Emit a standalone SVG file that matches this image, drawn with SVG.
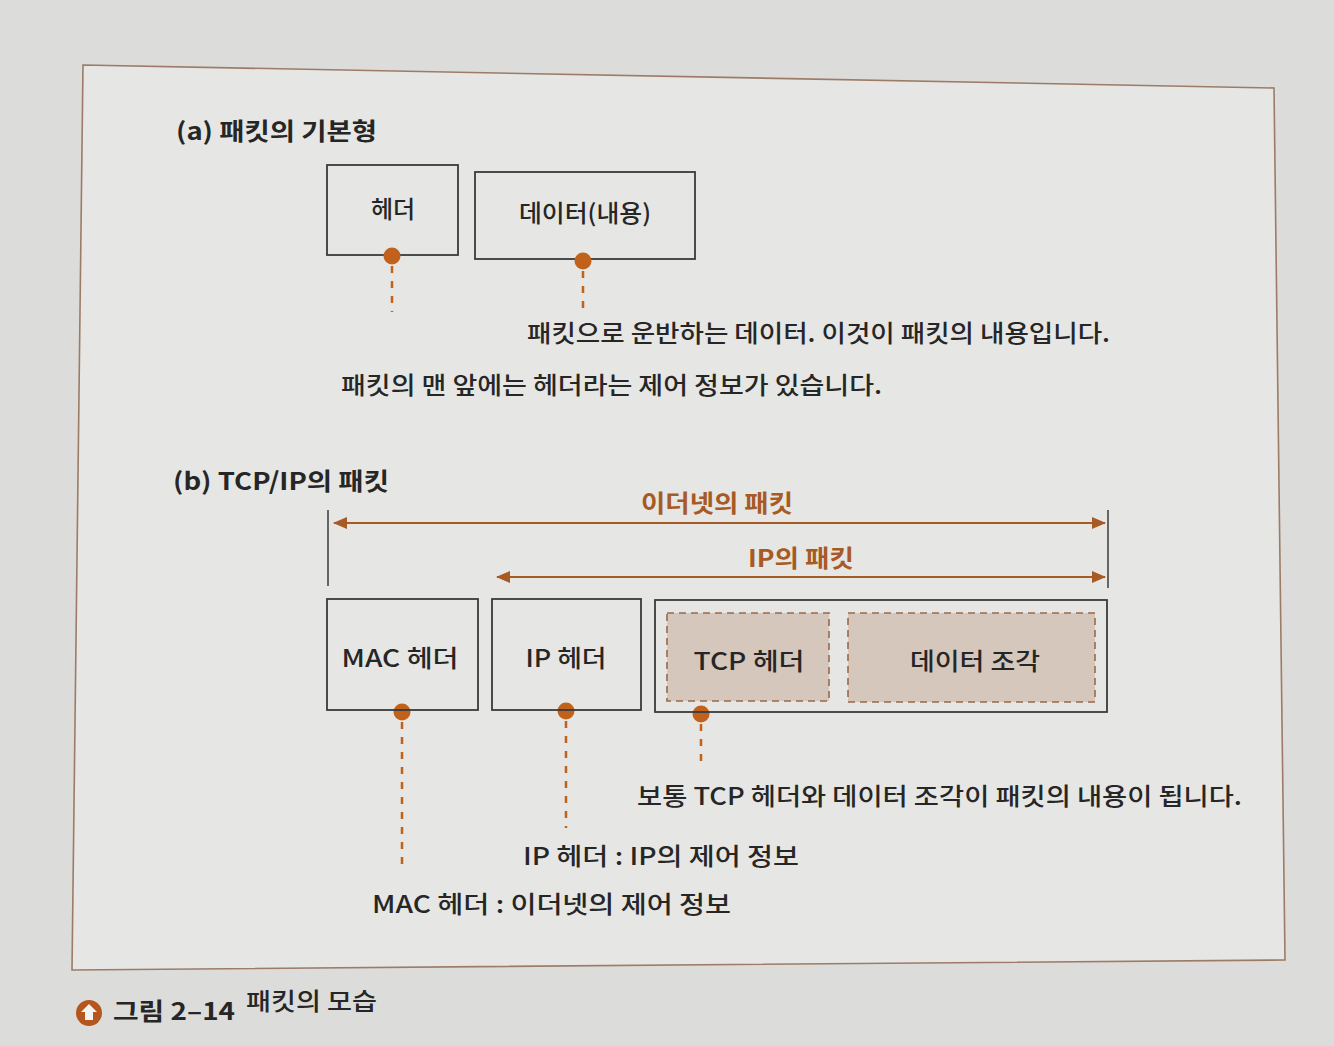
<svg xmlns="http://www.w3.org/2000/svg" width="1334" height="1046" viewBox="0 0 1334 1046">
<style>
.t{font-family:"Noto Sans CJK KR","Noto Sans",sans-serif;fill:#262626;font-size:24px;font-weight:500}
.b{font-weight:bold}
.o{fill:#a85a25;font-weight:bold}
.box{fill:none;stroke:#3a3a3a;stroke-width:1.8}
.dbox{fill:#d6c7bd;stroke:#9a6a4a;stroke-width:1.6;stroke-dasharray:7 5}
.dot{fill:#c0621c}
.lead{stroke:#c0621c;stroke-width:2.5;stroke-dasharray:7 8}
.arr{stroke:#a85a25;stroke-width:2.2;fill:none}
.tick{stroke:#3a3a3a;stroke-width:1.5}
</style>
<defs>
<marker id="ah" viewBox="0 0 14 12" refX="13" refY="6" markerWidth="14" markerHeight="12" markerUnits="userSpaceOnUse" orient="auto-start-reverse">
<path d="M0,0 L14,6 L0,12 Z" fill="#a85a25"/>
</marker>
</defs>
<rect width="1334" height="1046" fill="#dcdcda"/>
<polygon points="83,65 1274,88 1285,960 72,970" fill="#e6e6e4" stroke="#9c7c66" stroke-width="1.6"/>

<text class="t b" x="176" y="140" textLength="201" lengthAdjust="spacingAndGlyphs">(a) 패킷의 기본형</text>

<g id="header-a">
<rect class="box" x="327" y="165" width="131" height="90"/>
<text class="t" x="393" y="218" text-anchor="middle">헤더</text>
</g>
<g id="data-a">
<rect class="box" x="475" y="172" width="220" height="87"/>
<text class="t" x="585" y="222" text-anchor="middle" textLength="132" lengthAdjust="spacingAndGlyphs">데이터(내용)</text>
</g>

<g id="connectors">
<line class="lead" x1="392" y1="266" x2="392" y2="312"/>
<line class="lead" x1="583" y1="271" x2="583" y2="308"/>
<circle class="dot" cx="392" cy="256" r="8.5"/>
<circle class="dot" cx="583" cy="261" r="8.5"/>

<line class="tick" x1="328" y1="510" x2="328" y2="586"/>
<line class="tick" x1="1108" y1="510" x2="1108" y2="588"/>
<line class="arr" x1="334" y1="523" x2="1105" y2="523" marker-start="url(#ah)" marker-end="url(#ah)"/>
<line class="arr" x1="497" y1="577" x2="1105" y2="577" marker-start="url(#ah)" marker-end="url(#ah)"/>

<line class="lead" x1="402" y1="722" x2="402" y2="872"/>
<line class="lead" x1="566" y1="721" x2="566" y2="828"/>
<line class="lead" x1="701" y1="724" x2="701" y2="762"/>
<circle class="dot" cx="402" cy="712" r="8.5"/>
<circle class="dot" cx="566" cy="711" r="8.5"/>
<circle class="dot" cx="701" cy="714" r="8.5"/>
</g>

<text class="t" x="527" y="342" textLength="583" lengthAdjust="spacingAndGlyphs">패킷으로 운반하는 데이터. 이것이 패킷의 내용입니다.</text>
<text class="t" x="341" y="394" textLength="541" lengthAdjust="spacingAndGlyphs">패킷의 맨 앞에는 헤더라는 제어 정보가 있습니다.</text>

<text class="t b" x="173" y="490" textLength="216" lengthAdjust="spacingAndGlyphs">(b) TCP/IP의 패킷</text>
<text class="t o" x="717" y="512" text-anchor="middle" textLength="152" lengthAdjust="spacingAndGlyphs">이더넷의 패킷</text>
<text class="t o" x="801" y="567" text-anchor="middle" textLength="106" lengthAdjust="spacingAndGlyphs">IP의 패킷</text>

<g id="mac-header">
<rect class="box" x="327" y="599" width="151" height="111"/>
<text class="t" x="400" y="667" text-anchor="middle" textLength="117" lengthAdjust="spacingAndGlyphs">MAC 헤더</text>
</g>
<g id="ip-header">
<rect class="box" x="492" y="599" width="149" height="111"/>
<text class="t" x="566" y="667" text-anchor="middle" textLength="81" lengthAdjust="spacingAndGlyphs">IP 헤더</text>
</g>
<g id="ip-payload">
<rect class="box" x="655" y="600" width="452" height="112"/>
</g>
<g id="tcp-header">
<rect class="dbox" x="667" y="613" width="162" height="88"/>
<text class="t" x="749" y="670" text-anchor="middle" textLength="111" lengthAdjust="spacingAndGlyphs">TCP 헤더</text>
</g>
<g id="data-fragment">
<rect class="dbox" x="848" y="613" width="247" height="89"/>
<text class="t" x="975" y="670" text-anchor="middle" textLength="130" lengthAdjust="spacingAndGlyphs">데이터 조각</text>
</g>

<text class="t" x="637" y="805" textLength="605" lengthAdjust="spacingAndGlyphs">보통 TCP 헤더와 데이터 조각이 패킷의 내용이 됩니다.</text>
<text class="t" x="523" y="865" textLength="276" lengthAdjust="spacingAndGlyphs">IP 헤더 : IP의 제어 정보</text>
<text class="t" x="372" y="913" textLength="359" lengthAdjust="spacingAndGlyphs">MAC 헤더 : 이더넷의 제어 정보</text>

<g id="caption">
<circle cx="89" cy="1013" r="13" fill="#b5561e"/>
<path d="M89,1004 L97,1012 L93,1012 L93,1020 L85,1020 L85,1012 L81,1012 Z" fill="#f2f2f0"/>
<text class="t b" x="113" y="1020" textLength="122" lengthAdjust="spacingAndGlyphs">그림 2–14</text>
<text class="t" x="246" y="1010" textLength="131" lengthAdjust="spacingAndGlyphs">패킷의 모습</text>
</g>
</svg>
